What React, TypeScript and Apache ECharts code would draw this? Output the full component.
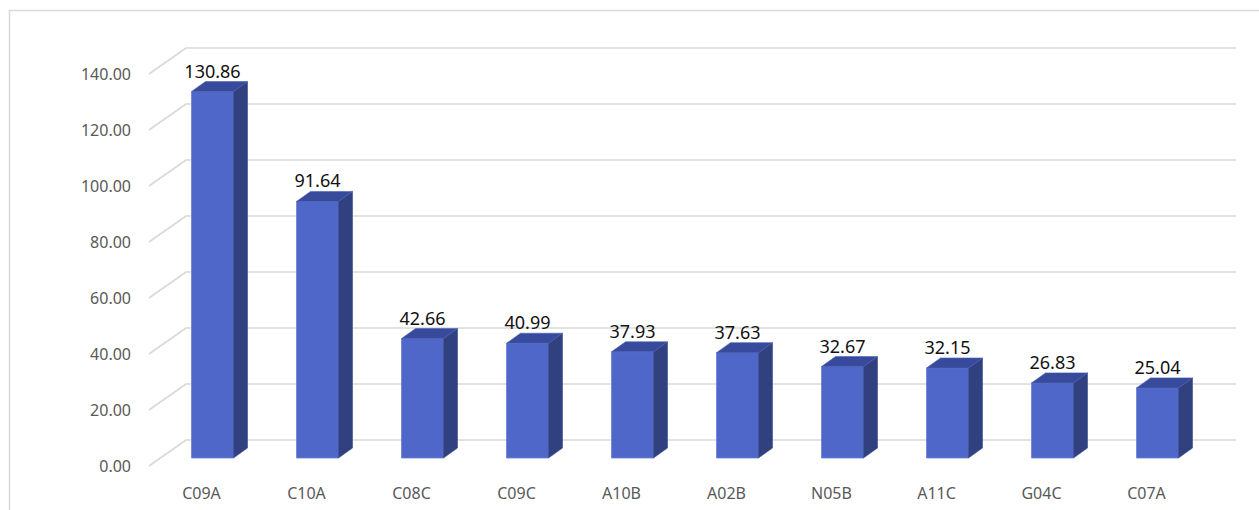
import React, { useEffect, useRef } from "react";
import * as echarts from "echarts";

const categories = ["C09A", "C10A", "C08C", "C09C", "A10B", "A02B", "N05B", "A11C", "G04C", "C07A"];
const values = [130.86, 91.64, 42.66, 40.99, 37.93, 37.63, 32.67, 32.15, 26.83, 25.04];
const tickValues = [0, 20, 40, 60, 80, 100, 120, 140];

export default function App() {
  const ref = useRef<HTMLDivElement>(null);
  useEffect(() => {
    const chart = echarts.init(ref.current as HTMLDivElement, null, { renderer: "svg" });
    const WALL_DX = 37;
    const WALL_DY = 26;
    const BAR_OFF_X = 11;
    const BAR_OFF_Y = 8;
    const BAR_W = 42;
    const BAR_DX = 14;
    const BAR_DY = 10;
    const FONT = "'Noto Sans', 'Open Sans', sans-serif";
    chart.setOption({
      animation: false,
      backgroundColor: "#ffffff",
      graphic: [
        {
          type: "rect",
          shape: { x: 9.5, y: 10.5, width: 1270, height: 520 },
          style: { fill: "none", stroke: "#D9D9D9", lineWidth: 1.5 },
          z: 0,
        },
      ],
      grid: { left: 149, top: 74, width: 1050, height: 392 },
      xAxis: {
        type: "category",
        data: categories,
        axisLine: { show: false },
        axisTick: { show: false },
        splitLine: { show: false },
        axisLabel: { color: "#595959", fontSize: 16, fontFamily: FONT, margin: 19 },
      },
      yAxis: {
        type: "value",
        min: 0,
        max: 140,
        interval: 20,
        axisLine: { show: false },
        axisTick: { show: false },
        splitLine: { show: false },
        axisLabel: {
          formatter: (v: number) => v.toFixed(2),
          color: "#595959",
          fontSize: 16,
          fontFamily: FONT,
          margin: 18,
        },
      },
      series: [
        {
          type: "custom",
          z: 1,
          silent: true,
          data: tickValues.map((v) => [0, v]),
          renderItem: (params: any, api: any) => {
            const y = api.coord([0, api.value(1)])[1];
            const cs = params.coordSys;
            const left = cs.x;
            const right = cs.x + cs.width;
            const st = { stroke: "#D9D9D9", lineWidth: 1.6, fill: "none" };
            return {
              type: "group",
              children: [
                {
                  type: "line",
                  shape: { x1: left, y1: y, x2: left + WALL_DX, y2: y - WALL_DY },
                  style: st,
                },
                {
                  type: "line",
                  shape: { x1: left + WALL_DX, y1: y - WALL_DY, x2: right + WALL_DX, y2: y - WALL_DY },
                  style: st,
                },
              ],
            };
          },
        },
        {
          type: "custom",
          z: 2,
          data: values.map((v, i) => [i, v]),
          renderItem: (params: any, api: any) => {
            const idx = api.value(0);
            const v = api.value(1);
            const top = api.coord([idx, v]);
            const base = api.coord([idx, 0]);
            const cx = top[0];
            const fx0 = cx + BAR_OFF_X - BAR_W / 2;
            const fx1 = fx0 + BAR_W;
            const ft = top[1] - BAR_OFF_Y;
            const fb = base[1] - BAR_OFF_Y;
            return {
              type: "group",
              children: [
                {
                  type: "polygon",
                  shape: { points: [[fx0, ft], [fx1, ft], [fx1, fb], [fx0, fb]] },
                  style: { fill: "#4E67C8", stroke: "#6A80D4", lineWidth: 0.8 },
                },
                {
                  type: "polygon",
                  shape: {
                    points: [[fx1, ft], [fx1 + BAR_DX, ft - BAR_DY], [fx1 + BAR_DX, fb - BAR_DY], [fx1, fb]],
                  },
                  style: { fill: "#31407F", stroke: "#3A4B92", lineWidth: 0.6 },
                },
                {
                  type: "polygon",
                  shape: {
                    points: [[fx0, ft], [fx0 + BAR_DX, ft - BAR_DY], [fx1 + BAR_DX, ft - BAR_DY], [fx1, ft]],
                  },
                  style: { fill: "#374A9C", stroke: "#4A5FB5", lineWidth: 0.6 },
                },
                {
                  type: "text",
                  style: {
                    text: v.toFixed(2),
                    x: (fx0 + fx1) / 2,
                    y: ft - 21,
                    align: "center",
                    verticalAlign: "middle",
                    fill: "#111111",
                    fontSize: 18,
                    fontFamily: FONT,
                  },
                },
              ],
            };
          },
        },
      ],
    });
    return () => chart.dispose();
  }, []);
  return (
    <div
      ref={ref}
      style={{ position: "absolute", left: 0, top: 0, width: 1259, height: 510 }}
    />
  );
}
